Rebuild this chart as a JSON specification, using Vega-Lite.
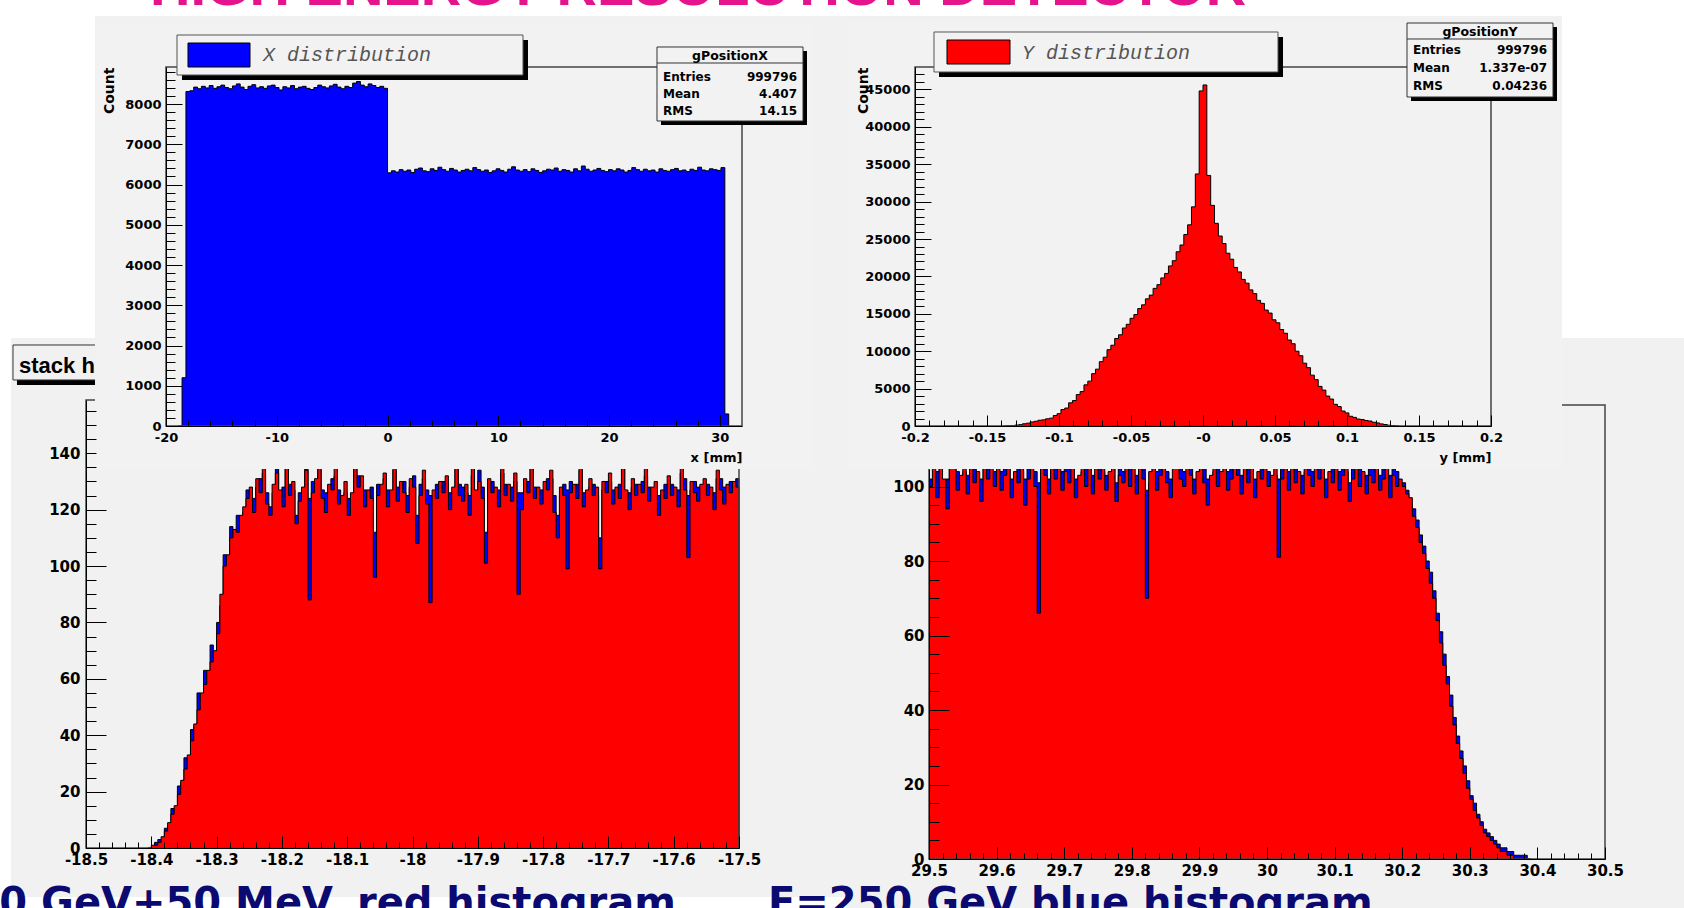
{
"$schema":"https://vega.github.io/schema/vega-lite/v6.json",
"width":1684,"height":908,"autosize":"none","padding":0,"background":"#ffffff",
"config":{"view":{"stroke":null},"axis":{"grid":false,"labelFont":"DejaVu Sans","labelFontWeight":"bold","labelColor":"#000000","domainColor":"#000000","domainWidth":1,"tickColor":"#000000","tickWidth":1,"titleFont":"DejaVu Sans","titleFontWeight":"bold","titleColor":"#000000","labelFlush":false,"labelOverlap":false,"labelBound":false}},
"data":{"values":[{}]},
"datasets":{
"tl":[{"x":-18.9,"count":0},{"x":-18.55,"count":1200},{"x":-18.2,"count":8310},{"x":-17.85,"count":8330},{"x":-17.5,"count":8420},{"x":-17.15,"count":8380},{"x":-16.8,"count":8440},{"x":-16.45,"count":8400},{"x":-16.1,"count":8460},{"x":-15.75,"count":8390},{"x":-15.4,"count":8430},{"x":-15.05,"count":8470},{"x":-14.7,"count":8410},{"x":-14.35,"count":8380},{"x":-14,"count":8450},{"x":-13.65,"count":8500},{"x":-13.3,"count":8420},{"x":-12.95,"count":8360},{"x":-12.6,"count":8440},{"x":-12.25,"count":8480},{"x":-11.9,"count":8400},{"x":-11.55,"count":8430},{"x":-11.2,"count":8390},{"x":-10.85,"count":8450},{"x":-10.5,"count":8470},{"x":-10.15,"count":8410},{"x":-9.8,"count":8350},{"x":-9.45,"count":8430},{"x":-9.1,"count":8400},{"x":-8.75,"count":8460},{"x":-8.4,"count":8380},{"x":-8.05,"count":8420},{"x":-7.7,"count":8440},{"x":-7.35,"count":8390},{"x":-7,"count":8360},{"x":-6.65,"count":8410},{"x":-6.3,"count":8470},{"x":-5.95,"count":8430},{"x":-5.6,"count":8400},{"x":-5.25,"count":8450},{"x":-4.9,"count":8490},{"x":-4.55,"count":8420},{"x":-4.2,"count":8380},{"x":-3.85,"count":8440},{"x":-3.5,"count":8410},{"x":-3.15,"count":8520},{"x":-2.8,"count":8560},{"x":-2.45,"count":8470},{"x":-2.1,"count":8430},{"x":-1.75,"count":8500},{"x":-1.4,"count":8460},{"x":-1.05,"count":8410},{"x":-0.7,"count":8440},{"x":-0.35,"count":8390},
{"x":0,"count":6290},{"x":0.35,"count":6340},{"x":0.7,"count":6310},{"x":1.05,"count":6370},{"x":1.4,"count":6330},{"x":1.75,"count":6360},{"x":2.1,"count":6300},{"x":2.45,"count":6380},{"x":2.8,"count":6410},{"x":3.15,"count":6340},{"x":3.5,"count":6320},{"x":3.85,"count":6390},{"x":4.2,"count":6350},{"x":4.55,"count":6430},{"x":4.9,"count":6370},{"x":5.25,"count":6330},{"x":5.6,"count":6400},{"x":5.95,"count":6360},{"x":6.3,"count":6310},{"x":6.65,"count":6350},{"x":7,"count":6380},{"x":7.35,"count":6340},{"x":7.7,"count":6420},{"x":8.05,"count":6370},{"x":8.4,"count":6330},{"x":8.75,"count":6360},{"x":9.1,"count":6300},{"x":9.45,"count":6340},{"x":9.8,"count":6390},{"x":10.15,"count":6350},{"x":10.5,"count":6310},{"x":10.85,"count":6380},{"x":11.2,"count":6440},{"x":11.55,"count":6360},{"x":11.9,"count":6330},{"x":12.25,"count":6370},{"x":12.6,"count":6320},{"x":12.95,"count":6390},{"x":13.3,"count":6350},{"x":13.65,"count":6300},{"x":14,"count":6340},{"x":14.35,"count":6380},{"x":14.7,"count":6360},{"x":15.05,"count":6410},{"x":15.4,"count":6330},{"x":15.75,"count":6370},{"x":16.1,"count":6350},{"x":16.45,"count":6310},{"x":16.8,"count":6390},{"x":17.15,"count":6340},{"x":17.5,"count":6460},{"x":17.85,"count":6380},{"x":18.2,"count":6330},{"x":18.55,"count":6360},{"x":18.9,"count":6400},{"x":19.25,"count":6350},{"x":19.6,"count":6320},{"x":19.95,"count":6370},{"x":20.3,"count":6340},{"x":20.65,"count":6390},{"x":21,"count":6360},{"x":21.35,"count":6310},{"x":21.7,"count":6350},{"x":22.05,"count":6420},{"x":22.4,"count":6370},{"x":22.75,"count":6330},{"x":23.1,"count":6380},{"x":23.45,"count":6340},{"x":23.8,"count":6360},{"x":24.15,"count":6310},{"x":24.5,"count":6390},{"x":24.85,"count":6350},{"x":25.2,"count":6330},{"x":25.55,"count":6370},{"x":25.9,"count":6400},{"x":26.25,"count":6340},{"x":26.6,"count":6360},{"x":26.95,"count":6320},{"x":27.3,"count":6380},{"x":27.65,"count":6350},{"x":28,"count":6430},{"x":28.35,"count":6360},{"x":28.7,"count":6340},{"x":29.05,"count":6390},{"x":29.4,"count":6370},{"x":29.75,"count":6350},{"x":30.1,"count":6420},{"x":30.45,"count":300},{"x":30.8,"count":0}],
"tr":[{"x":-0.138667,"count":0},{"x":-0.136,"count":18},{"x":-0.133333,"count":45},{"x":-0.130667,"count":120},{"x":-0.128,"count":180},{"x":-0.125333,"count":300},{"x":-0.122667,"count":380},{"x":-0.12,"count":540},{"x":-0.117333,"count":630},{"x":-0.114667,"count":770},{"x":-0.112,"count":820},{"x":-0.109333,"count":960},{"x":-0.106667,"count":1050},{"x":-0.104,"count":1400},{"x":-0.101333,"count":1650},{"x":-0.098667,"count":2200},{"x":-0.096,"count":2400},{"x":-0.093333,"count":3100},{"x":-0.090667,"count":3400},{"x":-0.088,"count":4200},{"x":-0.085333,"count":4600},{"x":-0.082667,"count":5500},{"x":-0.08,"count":6000},{"x":-0.077333,"count":7000},{"x":-0.074667,"count":7600},{"x":-0.072,"count":8600},{"x":-0.069333,"count":9200},{"x":-0.066667,"count":10200},{"x":-0.064,"count":10800},{"x":-0.061333,"count":11700},{"x":-0.058667,"count":12200},{"x":-0.056,"count":13100},{"x":-0.053333,"count":13600},{"x":-0.050667,"count":14400},{"x":-0.048,"count":14900},{"x":-0.045333,"count":15700},{"x":-0.042667,"count":16200},{"x":-0.04,"count":17000},{"x":-0.037333,"count":17500},{"x":-0.034667,"count":18400},{"x":-0.032,"count":18900},{"x":-0.029333,"count":19800},{"x":-0.026667,"count":20400},{"x":-0.024,"count":21400},{"x":-0.021333,"count":22100},{"x":-0.018667,"count":23300},{"x":-0.016,"count":24200},{"x":-0.013333,"count":25600},{"x":-0.010667,"count":26900},{"x":-0.008,"count":29300},{"x":-0.005333,"count":33700},{"x":-0.002667,"count":44800},{"x":0,"count":45600},{"x":0.002667,"count":33500},{"x":0.005333,"count":29500},{"x":0.008,"count":27100},{"x":0.010667,"count":25400},{"x":0.013333,"count":24400},{"x":0.016,"count":23100},{"x":0.018667,"count":22300},{"x":0.021333,"count":21200},{"x":0.024,"count":20600},{"x":0.026667,"count":19600},{"x":0.029333,"count":19100},{"x":0.032,"count":18200},{"x":0.034667,"count":17700},{"x":0.037333,"count":16800},{"x":0.04,"count":16400},{"x":0.042667,"count":15500},{"x":0.045333,"count":15100},{"x":0.048,"count":14200},{"x":0.050667,"count":13800},{"x":0.053333,"count":12900},{"x":0.056,"count":12400},{"x":0.058667,"count":11500},{"x":0.061333,"count":11000},{"x":0.064,"count":10000},{"x":0.066667,"count":9400},{"x":0.069333,"count":8400},{"x":0.072,"count":7800},{"x":0.074667,"count":6800},{"x":0.077333,"count":6200},{"x":0.08,"count":5300},{"x":0.082667,"count":4800},{"x":0.085333,"count":4000},{"x":0.088,"count":3600},{"x":0.090667,"count":2900},{"x":0.093333,"count":2600},{"x":0.096,"count":2000},{"x":0.098667,"count":1750},{"x":0.101333,"count":1300},{"x":0.104,"count":1150},{"x":0.106667,"count":930},{"x":0.109333,"count":870},{"x":0.112,"count":730},{"x":0.114667,"count":670},{"x":0.117333,"count":500},{"x":0.12,"count":410},{"x":0.122667,"count":280},{"x":0.125333,"count":200},{"x":0.128,"count":100},{"x":0.130667,"count":55},{"x":0.133333,"count":12},{"x":0.136,"count":0}],
"ll":[{"x":-18.405,"red":0,"blue":0},{"x":-18.4,"red":1,"blue":0},{"x":-18.395,"red":1,"blue":2},{"x":-18.39,"red":2,"blue":3},{"x":-18.385,"red":4,"blue":3},{"x":-18.38,"red":6,"blue":7},{"x":-18.375,"red":9,"blue":8},{"x":-18.37,"red":12,"blue":14},{"x":-18.365,"red":15,"blue":13},{"x":-18.36,"red":19,"blue":22},{"x":-18.355,"red":24,"blue":23},{"x":-18.35,"red":28,"blue":32},{"x":-18.345,"red":33,"blue":31},{"x":-18.34,"red":38,"blue":42},{"x":-18.335,"red":44,"blue":43},{"x":-18.33,"red":49,"blue":55},{"x":-18.325,"red":55,"blue":52},{"x":-18.32,"red":58,"blue":63},{"x":-18.315,"red":63,"blue":60},{"x":-18.31,"red":66,"blue":72},{"x":-18.305,"red":70,"blue":68},{"x":-18.3,"red":76,"blue":80},{"x":-18.295,"red":90,"blue":86},{"x":-18.29,"red":100,"blue":104},{"x":-18.285,"red":104,"blue":99},{"x":-18.28,"red":110,"blue":114},{"x":-18.275,"red":113,"blue":110},{"x":-18.27,"red":112,"blue":118},{"x":-18.265,"red":118,"blue":115},{"x":-18.26,"red":121,"blue":119},
{"x":-18.255,"red":124,"blue":127},{"x":-18.25,"red":128,"blue":125},{"x":-18.245,"red":119,"blue":124},{"x":-18.24,"red":131,"blue":128},{"x":-18.235,"red":126,"blue":131},{"x":-18.23,"red":136,"blue":133},{"x":-18.225,"red":122,"blue":126},{"x":-18.22,"red":118,"blue":121},{"x":-18.215,"red":129,"blue":126},{"x":-18.21,"red":133,"blue":137},
{"x":-18.205,"red":127,"blue":124},{"x":-18.2,"red":121,"blue":128},{"x":-18.195,"red":138,"blue":135},{"x":-18.19,"red":125,"blue":129},{"x":-18.185,"red":130,"blue":127},{"x":-18.18,"red":115,"blue":118},{"x":-18.175,"red":123,"blue":126},{"x":-18.17,"red":128,"blue":124},{"x":-18.165,"red":134,"blue":138},{"x":-18.16,"red":88,"blue":124},
{"x":-18.155,"red":126,"blue":130},{"x":-18.15,"red":131,"blue":128},{"x":-18.145,"red":142,"blue":139},{"x":-18.14,"red":124,"blue":127},{"x":-18.135,"red":119,"blue":126},{"x":-18.13,"red":129,"blue":125},{"x":-18.125,"red":127,"blue":131},{"x":-18.12,"red":135,"blue":132},{"x":-18.115,"red":122,"blue":127},{"x":-18.11,"red":125,"blue":121},
{"x":-18.105,"red":130,"blue":126},{"x":-18.1,"red":118,"blue":124},{"x":-18.095,"red":126,"blue":123},{"x":-18.09,"red":140,"blue":137},{"x":-18.085,"red":128,"blue":132},{"x":-18.08,"red":132,"blue":129},{"x":-18.075,"red":121,"blue":127},{"x":-18.07,"red":127,"blue":123},{"x":-18.065,"red":124,"blue":128},{"x":-18.06,"red":96,"blue":112},
{"x":-18.055,"red":125,"blue":129},{"x":-18.05,"red":129,"blue":126},{"x":-18.045,"red":133,"blue":131},{"x":-18.04,"red":121,"blue":127},{"x":-18.035,"red":127,"blue":124},{"x":-18.03,"red":137,"blue":134},{"x":-18.025,"red":123,"blue":128},{"x":-18.02,"red":130,"blue":127},{"x":-18.015,"red":126,"blue":130},{"x":-18.01,"red":119,"blue":125},
{"x":-18.005,"red":131,"blue":128},{"x":-18,"red":128,"blue":132},{"x":-17.995,"red":108,"blue":118},{"x":-17.99,"red":125,"blue":129},{"x":-17.985,"red":134,"blue":131},{"x":-17.98,"red":122,"blue":127},{"x":-17.975,"red":87,"blue":125},{"x":-17.97,"red":127,"blue":124},{"x":-17.965,"red":124,"blue":129},{"x":-17.96,"red":130,"blue":127},
{"x":-17.955,"red":126,"blue":130},{"x":-17.95,"red":132,"blue":129},{"x":-17.945,"red":120,"blue":126},{"x":-17.94,"red":128,"blue":125},{"x":-17.935,"red":145,"blue":141},{"x":-17.93,"red":125,"blue":129},{"x":-17.925,"red":123,"blue":128},{"x":-17.92,"red":129,"blue":126},{"x":-17.915,"red":118,"blue":125},{"x":-17.91,"red":135,"blue":132},
{"x":-17.905,"red":127,"blue":124},{"x":-17.9,"red":130,"blue":134},{"x":-17.895,"red":124,"blue":128},{"x":-17.89,"red":101,"blue":112},{"x":-17.885,"red":131,"blue":128},{"x":-17.88,"red":126,"blue":130},{"x":-17.875,"red":128,"blue":125},{"x":-17.87,"red":121,"blue":127},{"x":-17.865,"red":136,"blue":133},{"x":-17.86,"red":125,"blue":129},
{"x":-17.855,"red":129,"blue":126},{"x":-17.85,"red":123,"blue":128},{"x":-17.845,"red":133,"blue":130},{"x":-17.84,"red":90,"blue":126},{"x":-17.835,"red":120,"blue":126},{"x":-17.83,"red":131,"blue":128},{"x":-17.825,"red":126,"blue":130},{"x":-17.82,"red":138,"blue":135},{"x":-17.815,"red":124,"blue":128},{"x":-17.81,"red":128,"blue":125},
{"x":-17.805,"red":122,"blue":127},{"x":-17.8,"red":130,"blue":127},{"x":-17.795,"red":127,"blue":131},{"x":-17.79,"red":134,"blue":131},{"x":-17.785,"red":119,"blue":125},{"x":-17.78,"red":110,"blue":118},{"x":-17.775,"red":128,"blue":125},{"x":-17.77,"red":125,"blue":129},{"x":-17.765,"red":99,"blue":127},{"x":-17.76,"red":126,"blue":130},
{"x":-17.755,"red":129,"blue":126},{"x":-17.75,"red":124,"blue":129},{"x":-17.745,"red":137,"blue":134},{"x":-17.74,"red":121,"blue":126},{"x":-17.735,"red":127,"blue":124},{"x":-17.73,"red":131,"blue":128},{"x":-17.725,"red":125,"blue":129},{"x":-17.72,"red":128,"blue":125},{"x":-17.715,"red":99,"blue":110},{"x":-17.71,"red":130,"blue":127},
{"x":-17.705,"red":126,"blue":130},{"x":-17.7,"red":133,"blue":130},{"x":-17.695,"red":122,"blue":127},{"x":-17.69,"red":128,"blue":125},{"x":-17.685,"red":124,"blue":129},{"x":-17.68,"red":140,"blue":137},{"x":-17.675,"red":127,"blue":124},{"x":-17.67,"red":120,"blue":126},{"x":-17.665,"red":131,"blue":128},{"x":-17.66,"red":125,"blue":129},
{"x":-17.655,"red":129,"blue":126},{"x":-17.65,"red":126,"blue":130},{"x":-17.645,"red":135,"blue":132},{"x":-17.64,"red":123,"blue":128},{"x":-17.635,"red":128,"blue":125},{"x":-17.63,"red":130,"blue":127},{"x":-17.625,"red":118,"blue":125},{"x":-17.62,"red":127,"blue":124},{"x":-17.615,"red":124,"blue":129},{"x":-17.61,"red":132,"blue":129},
{"x":-17.605,"red":125,"blue":129},{"x":-17.6,"red":128,"blue":125},{"x":-17.595,"red":121,"blue":127},{"x":-17.59,"red":136,"blue":133},{"x":-17.585,"red":127,"blue":131},{"x":-17.58,"red":103,"blue":125},{"x":-17.575,"red":130,"blue":127},{"x":-17.57,"red":126,"blue":130},{"x":-17.565,"red":123,"blue":128},{"x":-17.56,"red":129,"blue":126},
{"x":-17.555,"red":131,"blue":128},{"x":-17.55,"red":125,"blue":129},{"x":-17.545,"red":128,"blue":125},{"x":-17.54,"red":120,"blue":126},{"x":-17.535,"red":134,"blue":131},{"x":-17.53,"red":127,"blue":131},{"x":-17.525,"red":122,"blue":128},{"x":-17.52,"red":129,"blue":126},{"x":-17.515,"red":126,"blue":130},{"x":-17.51,"red":130,"blue":127},
{"x":-17.505,"red":128,"blue":131},{"x":-17.5,"red":0,"blue":0}],
"lr":[{"x":29.5,"red":100,"blue":102},{"x":29.505,"red":105,"blue":101},{"x":29.51,"red":97,"blue":104},{"x":29.515,"red":108,"blue":106},{"x":29.52,"red":102,"blue":99},{"x":29.525,"red":94,"blue":102},{"x":29.53,"red":106,"blue":108},{"x":29.535,"red":111,"blue":107},{"x":29.54,"red":99,"blue":104},{"x":29.545,"red":103,"blue":100},
{"x":29.55,"red":107,"blue":104},{"x":29.555,"red":98,"blue":103},{"x":29.56,"red":113,"blue":110},{"x":29.565,"red":101,"blue":105},{"x":29.57,"red":104,"blue":101},{"x":29.575,"red":96,"blue":102},{"x":29.58,"red":109,"blue":106},{"x":29.585,"red":102,"blue":107},{"x":29.59,"red":105,"blue":102},{"x":29.595,"red":100,"blue":104},
{"x":29.6,"red":106,"blue":103},{"x":29.605,"red":99,"blue":104},{"x":29.61,"red":103,"blue":107},{"x":29.615,"red":110,"blue":106},{"x":29.62,"red":97,"blue":102},{"x":29.625,"red":104,"blue":101},{"x":29.63,"red":101,"blue":105},{"x":29.635,"red":108,"blue":104},{"x":29.64,"red":95,"blue":102},{"x":29.645,"red":102,"blue":106},
{"x":29.65,"red":105,"blue":102},{"x":29.655,"red":100,"blue":104},{"x":29.66,"red":66,"blue":101},{"x":29.665,"red":107,"blue":105},{"x":29.67,"red":103,"blue":107},{"x":29.675,"red":98,"blue":102},{"x":29.68,"red":111,"blue":108},{"x":29.685,"red":102,"blue":106},{"x":29.69,"red":106,"blue":103},{"x":29.695,"red":99,"blue":104},
{"x":29.7,"red":104,"blue":107},{"x":29.705,"red":101,"blue":105},{"x":29.71,"red":109,"blue":106},{"x":29.715,"red":97,"blue":102},{"x":29.72,"red":103,"blue":100},{"x":29.725,"red":106,"blue":104},{"x":29.73,"red":100,"blue":105},{"x":29.735,"red":112,"blue":108},{"x":29.74,"red":98,"blue":103},{"x":29.745,"red":105,"blue":101},
{"x":29.75,"red":102,"blue":106},{"x":29.755,"red":107,"blue":104},{"x":29.76,"red":99,"blue":103},{"x":29.765,"red":104,"blue":102},{"x":29.77,"red":110,"blue":107},{"x":29.775,"red":96,"blue":101},{"x":29.78,"red":103,"blue":107},{"x":29.785,"red":101,"blue":104},{"x":29.79,"red":108,"blue":105},{"x":29.795,"red":100,"blue":106},
{"x":29.8,"red":105,"blue":102},{"x":29.805,"red":98,"blue":103},{"x":29.81,"red":106,"blue":104},{"x":29.815,"red":102,"blue":106},{"x":29.82,"red":70,"blue":99},{"x":29.825,"red":104,"blue":101},{"x":29.83,"red":109,"blue":106},{"x":29.835,"red":99,"blue":104},{"x":29.84,"red":103,"blue":107},{"x":29.845,"red":107,"blue":104},
{"x":29.85,"red":101,"blue":104},{"x":29.855,"red":97,"blue":102},{"x":29.86,"red":105,"blue":101},{"x":29.865,"red":110,"blue":107},{"x":29.87,"red":102,"blue":106},{"x":29.875,"red":100,"blue":104},{"x":29.88,"red":106,"blue":103},{"x":29.885,"red":103,"blue":107},{"x":29.89,"red":98,"blue":102},{"x":29.895,"red":104,"blue":100},
{"x":29.9,"red":108,"blue":105},{"x":29.905,"red":101,"blue":106},{"x":29.91,"red":95,"blue":102},{"x":29.915,"red":103,"blue":100},{"x":29.92,"red":107,"blue":104},{"x":29.925,"red":100,"blue":105},{"x":29.93,"red":104,"blue":101},{"x":29.935,"red":111,"blue":108},{"x":29.94,"red":99,"blue":104},{"x":29.945,"red":102,"blue":106},
{"x":29.95,"red":106,"blue":103},{"x":29.955,"red":103,"blue":107},{"x":29.96,"red":98,"blue":103},{"x":29.965,"red":105,"blue":101},{"x":29.97,"red":101,"blue":105},{"x":29.975,"red":109,"blue":106},{"x":29.98,"red":97,"blue":102},{"x":29.985,"red":104,"blue":100},{"x":29.99,"red":102,"blue":106},{"x":29.995,"red":107,"blue":104},
{"x":30,"red":100,"blue":104},{"x":30.005,"red":103,"blue":100},{"x":30.01,"red":106,"blue":103},{"x":30.015,"red":81,"blue":102},{"x":30.02,"red":102,"blue":105},{"x":30.025,"red":108,"blue":105},{"x":30.03,"red":99,"blue":104},{"x":30.035,"red":105,"blue":102},{"x":30.04,"red":101,"blue":105},{"x":30.045,"red":104,"blue":101},
{"x":30.05,"red":98,"blue":103},{"x":30.055,"red":107,"blue":104},{"x":30.06,"red":103,"blue":107},{"x":30.065,"red":100,"blue":104},{"x":30.07,"red":106,"blue":102},{"x":30.075,"red":102,"blue":106},{"x":30.08,"red":110,"blue":107},{"x":30.085,"red":97,"blue":102},{"x":30.09,"red":104,"blue":101},{"x":30.095,"red":101,"blue":105},
{"x":30.1,"red":105,"blue":102},{"x":30.105,"red":99,"blue":104},{"x":30.11,"red":103,"blue":106},{"x":30.115,"red":108,"blue":104},{"x":30.12,"red":96,"blue":101},{"x":30.125,"red":102,"blue":106},{"x":30.13,"red":106,"blue":103},{"x":30.135,"red":100,"blue":105},{"x":30.14,"red":104,"blue":101},{"x":30.145,"red":98,"blue":103},
{"x":30.15,"red":103,"blue":107},{"x":30.155,"red":101,"blue":105},{"x":30.16,"red":107,"blue":104},{"x":30.165,"red":99,"blue":103},{"x":30.17,"red":102,"blue":106},{"x":30.175,"red":105,"blue":102},{"x":30.18,"red":97,"blue":103},{"x":30.185,"red":103,"blue":107},{"x":30.19,"red":100,"blue":104},{"x":30.195,"red":102,"blue":99},
{"x":30.2,"red":100,"blue":101},{"x":30.205,"red":98,"blue":99},{"x":30.21,"red":97,"blue":95},{"x":30.215,"red":92,"blue":94},{"x":30.22,"red":89,"blue":91},{"x":30.225,"red":85,"blue":87},{"x":30.23,"red":82,"blue":84},{"x":30.235,"red":78,"blue":80},{"x":30.24,"red":74,"blue":77},{"x":30.245,"red":70,"blue":72},{"x":30.25,"red":64,"blue":66},{"x":30.255,"red":58,"blue":61},{"x":30.26,"red":52,"blue":55},{"x":30.265,"red":47,"blue":49},{"x":30.27,"red":41,"blue":44},{"x":30.275,"red":36,"blue":38},{"x":30.28,"red":31,"blue":33},{"x":30.285,"red":27,"blue":29},{"x":30.29,"red":23,"blue":25},{"x":30.295,"red":19,"blue":21},{"x":30.3,"red":16,"blue":17},{"x":30.305,"red":13,"blue":15},{"x":30.31,"red":11,"blue":12},{"x":30.315,"red":9,"blue":10},{"x":30.32,"red":7,"blue":8},{"x":30.325,"red":6,"blue":7},{"x":30.33,"red":5,"blue":6},{"x":30.335,"red":4,"blue":5},{"x":30.34,"red":3,"blue":4},{"x":30.345,"red":2,"blue":3},{"x":30.35,"red":2,"blue":3},{"x":30.355,"red":1,"blue":2},{"x":30.36,"red":1,"blue":2},{"x":30.365,"red":0,"blue":1},{"x":30.37,"red":0,"blue":1},{"x":30.375,"red":0,"blue":1},{"x":30.38,"red":0,"blue":1},{"x":30.385,"red":0,"blue":0},{"x":30.39,"red":0,"blue":0}]
},
"resolve":{"scale":{"x":"independent","y":"independent"},"axis":{"x":"independent","y":"independent"}},
"layer":[
{"mark":{"type":"rect","fill":"#f1f1f1"},"encoding":{"x":{"datum":-18.6149,"type":"quantitative","scale":{"domain":[-18.5,-17.5],"range":[86,739],"nice":false,"zero":false},"axis":null},"x2":{"datum":-17.33},"y":{"datum":180.89,"type":"quantitative","scale":{"domain":[0,158.9],"range":[848,400],"nice":false},"axis":null},"y2":{"datum":-17.38}}},
{"mark":{"type":"rect","fill":"#000000"},"encoding":{"x":{"datum":-18.6057,"type":"quantitative","scale":{"domain":[-18.5,-17.5],"range":[86,739],"nice":false,"zero":false},"axis":null},"x2":{"datum":-18.1355},"y":{"datum":176.63,"type":"quantitative","scale":{"domain":[0,158.9],"range":[848,400],"nice":false},"axis":null},"y2":{"datum":164.22}}},
{"mark":{"type":"rect","fill":"#f1f1f1","stroke":"#333333","strokeWidth":1},"encoding":{"x":{"datum":-18.6118,"type":"quantitative","scale":{"domain":[-18.5,-17.5],"range":[86,739],"nice":false,"zero":false},"axis":null},"x2":{"datum":-18.1417},"y":{"datum":178.41,"type":"quantitative","scale":{"domain":[0,158.9],"range":[848,400],"nice":false},"axis":null},"y2":{"datum":166.0}}},
{"mark":{"type":"text","text":"stack histograms","font":"Liberation Sans","fontSize":22,"fontWeight":"bold","align":"left","baseline":"alphabetic","color":"#000000"},"encoding":{"x":{"datum":-18.6026,"type":"quantitative","scale":{"domain":[-18.5,-17.5],"range":[86,739],"nice":false,"zero":false},"axis":null},"y":{"datum":168.48,"type":"quantitative","scale":{"domain":[0,158.9],"range":[848,400],"nice":false},"axis":null}}},
{"mark":{"type":"text","text":"E=250 GeV+50 MeV, red histogram","font":"DejaVu Sans","fontSize":40,"fontWeight":"bold","align":"right","baseline":"alphabetic","color":"#0a0a70"},"encoding":{"x":{"datum":-17.5965,"type":"quantitative","scale":{"domain":[-18.5,-17.5],"range":[86,739],"nice":false,"zero":false},"axis":null},"y":{"datum":-24.12,"type":"quantitative","scale":{"domain":[0,158.9],"range":[848,400],"nice":false},"axis":null}}},
{"data":{"name":"ll"},"mark":{"type":"area","interpolate":"step-after","color":"#0000ff","opacity":1,"line":{"color":"#000000","strokeWidth":1}},"encoding":{"x":{"field":"x","type":"quantitative","scale":{"domain":[-18.5,-17.5],"range":[86,739],"nice":false,"zero":false},"axis":null},"y":{"field":"blue","type":"quantitative","scale":{"domain":[0,158.9],"range":[848,400],"nice":false},"axis":null}}},
{"data":{"name":"ll"},"mark":{"type":"area","interpolate":"step-after","color":"#ff0000","opacity":1,"line":{"color":"#000000","strokeWidth":1}},"encoding":{"x":{"field":"x","type":"quantitative","scale":{"domain":[-18.5,-17.5],"range":[86,739],"nice":false,"zero":false},"axis":null},"y":{"field":"red","type":"quantitative","scale":{"domain":[0,158.9],"range":[848,400],"nice":false},"axis":null}}},
{"mark":{"type":"rect","fill":"transparent","stroke":"#444444","strokeWidth":1.5},"encoding":{"x":{"datum":-18.5,"type":"quantitative","scale":{"domain":[-18.5,-17.5],"range":[86,739],"nice":false,"zero":false},"axis":{"zindex":1,"orient":"bottom","offset":-60,"values":[-18.5,-18.4,-18.3,-18.2,-18.1,-18,-17.9,-17.8,-17.7,-17.6,-17.5],"labelExpr":"toString(datum.value)","ticks":false,"tickSize":0,"domain":true,"labelFontSize":15,"labelPadding":4,"title":null}},"x2":{"datum":-17.5},"y":{"datum":0,"type":"quantitative","scale":{"domain":[0,158.9],"range":[848,400],"nice":false},"axis":{"zindex":1,"orient":"left","offset":-86,"values":[0,20,40,60,80,100,120,140],"labelExpr":"toString(datum.value)","ticks":false,"tickSize":0,"domain":true,"labelFontSize":15,"labelPadding":6,"title":null}},"y2":{"datum":158.9}}},
{"mark":{"type":"point","opacity":0,"size":1},"encoding":{"x":{"datum":-18.5,"type":"quantitative","scale":{"domain":[-18.5,-17.5],"range":[86,739],"nice":false,"zero":false},"axis":{"zindex":1,"orient":"bottom","offset":-60,"values":[-18.5,-18.4,-18.3,-18.2,-18.1,-18,-17.9,-17.8,-17.7,-17.6,-17.5],"labels":false,"domain":false,"tickSize":-12,"title":null}},"y":{"datum":0,"type":"quantitative","scale":{"domain":[0,158.9],"range":[848,400],"nice":false},"axis":{"zindex":1,"orient":"left","offset":-86,"values":[0,20,40,60,80,100,120],"labels":false,"domain":false,"tickSize":-20,"title":null}}}},
{"mark":{"type":"point","opacity":0,"size":1},"encoding":{"x":{"datum":-18.5,"type":"quantitative","scale":{"domain":[-18.5,-17.5],"range":[86,739],"nice":false,"zero":false},"axis":{"zindex":1,"orient":"bottom","offset":-60,"values":[-18.48,-18.46,-18.44,-18.42,-18.38,-18.36,-18.34,-18.32,-18.28,-18.26,-18.24,-18.22,-18.18,-18.16,-18.14,-18.12,-18.08,-18.06,-18.04,-18.02,-17.98,-17.96,-17.94,-17.92,-17.88,-17.86,-17.84,-17.82,-17.78,-17.76,-17.74,-17.72,-17.68,-17.66,-17.64,-17.62,-17.58,-17.56,-17.54,-17.52],"labels":false,"domain":false,"tickSize":-6,"title":null}},"y":{"datum":0,"type":"quantitative","scale":{"domain":[0,158.9],"range":[848,400],"nice":false},"axis":{"zindex":1,"orient":"left","offset":-86,"values":[5,10,15,25,30,35,45,50,55,65,70,75,85,90,95,105,110,115,125,130,135,140,145,150,155],"labels":false,"domain":false,"tickSize":-10,"title":null}}}},

{"mark":{"type":"rect","fill":"#f1f1f1"},"encoding":{"x":{"datum":29.3772,"type":"quantitative","scale":{"domain":[29.5,30.5],"range":[929,1605],"nice":false,"zero":false},"axis":null},"x2":{"datum":30.6405},"y":{"datum":139.87,"type":"quantitative","scale":{"domain":[0,104.7],"range":[859,469],"nice":false},"axis":null},"y2":{"datum":-15.03}}},
{"mark":{"type":"text","text":"E=250 GeV blue histogram","font":"DejaVu Sans","fontSize":40,"fontWeight":"bold","align":"left","baseline":"alphabetic","color":"#0a0a70"},"encoding":{"x":{"datum":29.2618,"type":"quantitative","scale":{"domain":[29.5,30.5],"range":[929,1605],"nice":false,"zero":false},"axis":null},"y":{"datum":-15.3,"type":"quantitative","scale":{"domain":[0,104.7],"range":[859,469],"nice":false},"axis":null}}},
{"data":{"name":"lr"},"mark":{"type":"area","interpolate":"step-after","color":"#0000ff","opacity":1,"line":{"color":"#000000","strokeWidth":1}},"encoding":{"x":{"field":"x","type":"quantitative","scale":{"domain":[29.5,30.5],"range":[929,1605],"nice":false,"zero":false},"axis":null},"y":{"field":"blue","type":"quantitative","scale":{"domain":[0,104.7],"range":[859,469],"nice":false},"axis":null}}},
{"data":{"name":"lr"},"mark":{"type":"area","interpolate":"step-after","color":"#ff0000","opacity":1,"line":{"color":"#000000","strokeWidth":1}},"encoding":{"x":{"field":"x","type":"quantitative","scale":{"domain":[29.5,30.5],"range":[929,1605],"nice":false,"zero":false},"axis":null},"y":{"field":"red","type":"quantitative","scale":{"domain":[0,104.7],"range":[859,469],"nice":false},"axis":null}}},
{"mark":{"type":"rect","fill":"transparent","stroke":"#444444","strokeWidth":1.5},"encoding":{"x":{"datum":29.5,"type":"quantitative","scale":{"domain":[29.5,30.5],"range":[929,1605],"nice":false,"zero":false},"axis":{"zindex":1,"orient":"bottom","offset":-49,"values":[29.5,29.6,29.7,29.8,29.9,30,30.1,30.2,30.3,30.4,30.5],"labelExpr":"toString(datum.value)","ticks":false,"tickSize":0,"domain":true,"labelFontSize":15,"labelPadding":4,"title":null}},"x2":{"datum":30.5},"y":{"datum":0,"type":"quantitative","scale":{"domain":[0,104.7],"range":[859,469],"nice":false},"axis":{"zindex":1,"orient":"left","offset":-929,"values":[0,20,40,60,80,100],"labelExpr":"toString(datum.value)","ticks":false,"tickSize":0,"domain":true,"labelFontSize":15,"labelPadding":5,"title":null}},"y2":{"datum":121.88}}},
{"mark":{"type":"point","opacity":0,"size":1},"encoding":{"x":{"datum":29.5,"type":"quantitative","scale":{"domain":[29.5,30.5],"range":[929,1605],"nice":false,"zero":false},"axis":{"zindex":1,"orient":"bottom","offset":-49,"values":[29.5,29.6,29.7,29.8,29.9,30,30.1,30.2,30.3,30.4,30.5],"labels":false,"domain":false,"tickSize":-12,"title":null}},"y":{"datum":0,"type":"quantitative","scale":{"domain":[0,104.7],"range":[859,469],"nice":false},"axis":{"zindex":1,"orient":"left","offset":-929,"values":[0,20,40,60,80,100],"labels":false,"domain":false,"tickSize":-20,"title":null}}}},
{"mark":{"type":"point","opacity":0,"size":1},"encoding":{"x":{"datum":29.5,"type":"quantitative","scale":{"domain":[29.5,30.5],"range":[929,1605],"nice":false,"zero":false},"axis":{"zindex":1,"orient":"bottom","offset":-49,"values":[29.52,29.54,29.56,29.58,29.62,29.64,29.66,29.68,29.72,29.74,29.76,29.78,29.82,29.84,29.86,29.88,29.92,29.94,29.96,29.98,30.02,30.04,30.06,30.08,30.12,30.14,30.16,30.18,30.22,30.24,30.26,30.28,30.32,30.34,30.36,30.38,30.42,30.44,30.46,30.48],"labels":false,"domain":false,"tickSize":-6,"title":null}},"y":{"datum":0,"type":"quantitative","scale":{"domain":[0,104.7],"range":[859,469],"nice":false},"axis":{"zindex":1,"orient":"left","offset":-929,"values":[5,10,15,25,30,35,45,50,55,65,70,75,85,90,95],"labels":false,"domain":false,"tickSize":-10,"title":null}}}},

{"mark":{"type":"rect","fill":"#f1f1f1"},"encoding":{"x":{"datum":-26.41,"type":"quantitative","scale":{"domain":[-20,32],"range":[166,742],"nice":false,"zero":false},"axis":null},"x2":{"datum":106.03},"y":{"datum":10187,"type":"quantitative","scale":{"domain":[0,8920],"range":[426,67],"nice":false},"axis":null},"y2":{"datum":-1068.4}}},
{"mark":{"type":"text","text":"HIGH ENERGY RESOLUTION DETECTOR","font":"Liberation Sans","fontSize":56,"fontWeight":"bold","align":"left","baseline":"alphabetic","color":"#e5148c"},"encoding":{"x":{"datum":-21.444,"type":"quantitative","scale":{"domain":[-20,32],"range":[166,742],"nice":false,"zero":false},"axis":null},"y":{"datum":10460.6,"type":"quantitative","scale":{"domain":[0,8920],"range":[426,67],"nice":false},"axis":null}}},

{"mark":{"type":"rect","fill":"#f2f2f2"},"encoding":{"x":{"datum":-26.3194,"type":"quantitative","scale":{"domain":[-20,32],"range":[166,742],"nice":false,"zero":false},"axis":null},"x2":{"datum":38.41},"y":{"datum":9988.5,"type":"quantitative","scale":{"domain":[0,8920],"range":[426,67],"nice":false},"axis":null},"y2":{"datum":-1068.4}}},
{"data":{"name":"tl"},"mark":{"type":"area","interpolate":"step-after","color":"#0000ff","opacity":1,"line":{"color":"#000000","strokeWidth":1}},"encoding":{"x":{"field":"x","type":"quantitative","scale":{"domain":[-20,32],"range":[166,742],"nice":false,"zero":false},"axis":null},"y":{"field":"count","type":"quantitative","scale":{"domain":[0,8920],"range":[426,67],"nice":false},"axis":null}}},
{"mark":{"type":"rect","fill":"transparent","stroke":"#444444","strokeWidth":1.5},"encoding":{"x":{"datum":-20,"type":"quantitative","scale":{"domain":[-20,32],"range":[166,742],"nice":false,"zero":false},"axis":{"zindex":1,"orient":"bottom","offset":-482,"values":[-20,-10,0,10,20,30],"labelExpr":"toString(datum.value)","ticks":false,"tickSize":0,"domain":true,"labelFontSize":13,"labelPadding":5,"title":"x [mm]","titleX":742,"titleY":35,"titleAlign":"right","titleBaseline":"alphabetic","titleAngle":0,"titleFontSize":13}},"x2":{"datum":32},"y":{"datum":0,"type":"quantitative","scale":{"domain":[0,8920],"range":[426,67],"nice":false},"axis":{"zindex":1,"orient":"left","offset":-166,"values":[0,1000,2000,3000,4000,5000,6000,7000,8000],"labelExpr":"toString(datum.value)","ticks":false,"tickSize":0,"domain":true,"labelFontSize":13,"labelPadding":5,"title":"Count","titleX":-53,"titleY":67,"titleAngle":-90,"titleAlign":"right","titleBaseline":"alphabetic","titleFontSize":14}},"y2":{"datum":8920}}},
{"mark":{"type":"point","opacity":0,"size":1},"encoding":{"x":{"datum":-20,"type":"quantitative","scale":{"domain":[-20,32],"range":[166,742],"nice":false,"zero":false},"axis":{"zindex":1,"orient":"bottom","offset":-482,"values":[-20,-10,0,10,20,30],"labels":false,"domain":false,"tickSize":-11,"title":null}},"y":{"datum":0,"type":"quantitative","scale":{"domain":[0,8920],"range":[426,67],"nice":false},"axis":{"zindex":1,"orient":"left","offset":-166,"values":[0,1000,2000,3000,4000,5000,6000,7000,8000],"labels":false,"domain":false,"tickSize":-16,"title":null}}}},
{"mark":{"type":"point","opacity":0,"size":1},"encoding":{"x":{"datum":-20,"type":"quantitative","scale":{"domain":[-20,32],"range":[166,742],"nice":false,"zero":false},"axis":{"zindex":1,"orient":"bottom","offset":-482,"values":[-18,-16,-14,-12,-8,-6,-4,-2,2,4,6,8,12,14,16,18,22,24,26,28],"labels":false,"domain":false,"tickSize":-6,"title":null}},"y":{"datum":0,"type":"quantitative","scale":{"domain":[0,8920],"range":[426,67],"nice":false},"axis":{"zindex":1,"orient":"left","offset":-166,"values":[200,400,600,800,1200,1400,1600,1800,2200,2400,2600,2800,3200,3400,3600,3800,4200,4400,4600,4800,5200,5400,5600,5800,6200,6400,6600,6800,7200,7400,7600,7800,8200,8400,8600,8800],"labels":false,"domain":false,"tickSize":-9,"title":null}}}},
{"mark":{"type":"rect","fill":"#000000"},"encoding":{"x":{"datum":-18.5556,"type":"quantitative","scale":{"domain":[-20,32],"range":[166,742],"nice":false,"zero":false},"axis":null},"x2":{"datum":12.681},"y":{"datum":9591,"type":"quantitative","scale":{"domain":[0,8920],"range":[426,67],"nice":false},"axis":null},"y2":{"datum":8597}}},
{"mark":{"type":"rect","fill":"#f2f2f2","stroke":"#555555","strokeWidth":1},"encoding":{"x":{"datum":-19.007,"type":"quantitative","scale":{"domain":[-20,32],"range":[166,742],"nice":false,"zero":false},"axis":null},"x2":{"datum":12.229},"y":{"datum":9715,"type":"quantitative","scale":{"domain":[0,8920],"range":[426,67],"nice":false},"axis":null},"y2":{"datum":8721}}},
{"mark":{"type":"rect","fill":"#0000ff","stroke":"#000000","strokeWidth":1},"encoding":{"x":{"datum":-18.014,"type":"quantitative","scale":{"domain":[-20,32],"range":[166,742],"nice":false,"zero":false},"axis":null},"x2":{"datum":-12.417},"y":{"datum":9516,"type":"quantitative","scale":{"domain":[0,8920],"range":[426,67],"nice":false},"axis":null},"y2":{"datum":8920}}},
{"mark":{"type":"text","text":"X distribution","font":"Liberation Mono","fontSize":20,"fontStyle":"italic","align":"left","baseline":"alphabetic","color":"#555555"},"encoding":{"x":{"datum":-11.243,"type":"quantitative","scale":{"domain":[-20,32],"range":[166,742],"nice":false,"zero":false},"axis":null},"y":{"datum":9069,"type":"quantitative","scale":{"domain":[0,8920],"range":[426,67],"nice":false},"axis":null}}},
{"mark":{"type":"rect","fill":"#000000"},"encoding":{"x":{"datum":24.688,"type":"quantitative","scale":{"domain":[-20,32],"range":[166,742],"nice":false,"zero":false},"axis":null},"x2":{"datum":37.868},"y":{"datum":9318,"type":"quantitative","scale":{"domain":[0,8920],"range":[426,67],"nice":false},"axis":null},"y2":{"datum":7479}}},
{"mark":{"type":"rect","fill":"#f2f2f2","stroke":"#333333","strokeWidth":1},"encoding":{"x":{"datum":24.326,"type":"quantitative","scale":{"domain":[-20,32],"range":[166,742],"nice":false,"zero":false},"axis":null},"x2":{"datum":37.507},"y":{"datum":9417,"type":"quantitative","scale":{"domain":[0,8920],"range":[426,67],"nice":false},"axis":null},"y2":{"datum":7578}}},
{"mark":{"type":"rule","color":"#333333","strokeWidth":1},"encoding":{"x":{"datum":24.326,"type":"quantitative","scale":{"domain":[-20,32],"range":[166,742],"nice":false,"zero":false},"axis":null},"x2":{"datum":37.507},"y":{"datum":9019,"type":"quantitative","scale":{"domain":[0,8920],"range":[426,67],"nice":false},"axis":null}}},
{"mark":{"type":"text","text":"gPositionX","font":"DejaVu Sans","fontSize":12.5,"fontWeight":"bold","align":"center","baseline":"alphabetic","color":"#000000"},"encoding":{"x":{"datum":30.917,"type":"quantitative","scale":{"domain":[-20,32],"range":[166,742],"nice":false,"zero":false},"axis":null},"y":{"datum":9094,"type":"quantitative","scale":{"domain":[0,8920],"range":[426,67],"nice":false},"axis":null}}},
{"data":{"values":[{"name":"Entries","value":"999796"},{"name":"Mean","value":"4.407"},{"name":"RMS","value":"14.15"}]},"mark":{"type":"text","font":"DejaVu Sans","fontSize":12,"fontWeight":"bold","align":"left","baseline":"alphabetic","color":"#000000"},"encoding":{"x":{"datum":24.868,"type":"quantitative","scale":{"domain":[-20,32],"range":[166,742],"nice":false,"zero":false},"axis":null},"y":{"field":"name","type":"nominal","scale":{"type":"point","domain":["Entries","Mean","RMS"],"range":[81,115],"padding":0},"axis":null},"text":{"field":"name"}}},
{"data":{"values":[{"name":"Entries","value":"999796"},{"name":"Mean","value":"4.407"},{"name":"RMS","value":"14.15"}]},"mark":{"type":"text","font":"DejaVu Sans","fontSize":12,"fontWeight":"bold","align":"right","baseline":"alphabetic","color":"#000000"},"encoding":{"x":{"datum":36.965,"type":"quantitative","scale":{"domain":[-20,32],"range":[166,742],"nice":false,"zero":false},"axis":null},"y":{"field":"name","type":"nominal","scale":{"type":"point","domain":["Entries","Mean","RMS"],"range":[81,115],"padding":0},"axis":null},"text":{"field":"value"}}},

{"mark":{"type":"rect","fill":"#f2f2f2"},"encoding":{"x":{"datum":-0.24653,"type":"quantitative","scale":{"domain":[-0.2,0.2],"range":[915,1491],"nice":false,"zero":false},"axis":null},"x2":{"datum":0.24931},"y":{"datum":54017,"type":"quantitative","scale":{"domain":[0,48000],"range":[426,67],"nice":false},"axis":null},"y2":{"datum":-5749}}},
{"data":{"name":"tr"},"mark":{"type":"area","interpolate":"step-after","color":"#ff0000","opacity":1,"line":{"color":"#000000","strokeWidth":1}},"encoding":{"x":{"field":"x","type":"quantitative","scale":{"domain":[-0.2,0.2],"range":[915,1491],"nice":false,"zero":false},"axis":null},"y":{"field":"count","type":"quantitative","scale":{"domain":[0,48000],"range":[426,67],"nice":false},"axis":null}}},
{"mark":{"type":"rect","fill":"transparent","stroke":"#444444","strokeWidth":1.5},"encoding":{"x":{"datum":-0.2,"type":"quantitative","scale":{"domain":[-0.2,0.2],"range":[915,1491],"nice":false,"zero":false},"axis":{"zindex":1,"orient":"bottom","offset":-482,"values":[-0.2,-0.15,-0.1,-0.05,0,0.05,0.1,0.15,0.2],"labelExpr":"datum.value == 0 ? '-0' : toString(datum.value)","ticks":false,"tickSize":0,"domain":true,"labelFontSize":13,"labelPadding":5,"title":"y [mm]","titleX":1491,"titleY":35,"titleAlign":"right","titleBaseline":"alphabetic","titleAngle":0,"titleFontSize":13}},"x2":{"datum":0.2},"y":{"datum":0,"type":"quantitative","scale":{"domain":[0,48000],"range":[426,67],"nice":false},"axis":{"zindex":1,"orient":"left","offset":-915,"values":[0,5000,10000,15000,20000,25000,30000,35000,40000,45000],"labelExpr":"toString(datum.value)","ticks":false,"tickSize":0,"domain":true,"labelFontSize":13,"labelPadding":5,"title":"Count","titleX":-48,"titleY":67,"titleAngle":-90,"titleAlign":"right","titleBaseline":"alphabetic","titleFontSize":14}},"y2":{"datum":48000}}},
{"mark":{"type":"point","opacity":0,"size":1},"encoding":{"x":{"datum":-0.2,"type":"quantitative","scale":{"domain":[-0.2,0.2],"range":[915,1491],"nice":false,"zero":false},"axis":{"zindex":1,"orient":"bottom","offset":-482,"values":[-0.2,-0.15,-0.1,-0.05,0,0.05,0.1,0.15,0.2],"labels":false,"domain":false,"tickSize":-11,"title":null}},"y":{"datum":0,"type":"quantitative","scale":{"domain":[0,48000],"range":[426,67],"nice":false},"axis":{"zindex":1,"orient":"left","offset":-915,"values":[0,5000,10000,15000,20000,25000,30000,35000,40000,45000],"labels":false,"domain":false,"tickSize":-16,"title":null}}}},
{"mark":{"type":"point","opacity":0,"size":1},"encoding":{"x":{"datum":-0.2,"type":"quantitative","scale":{"domain":[-0.2,0.2],"range":[915,1491],"nice":false,"zero":false},"axis":{"zindex":1,"orient":"bottom","offset":-482,"values":[-0.19,-0.18,-0.17,-0.16,-0.14,-0.13,-0.12,-0.11,-0.09,-0.08,-0.07,-0.06,-0.04,-0.03,-0.02,-0.01,0.01,0.02,0.03,0.04,0.06,0.07,0.08,0.09,0.11,0.12,0.13,0.14,0.16,0.17,0.18,0.19],"labels":false,"domain":false,"tickSize":-6,"title":null}},"y":{"datum":0,"type":"quantitative","scale":{"domain":[0,48000],"range":[426,67],"nice":false},"axis":{"zindex":1,"orient":"left","offset":-915,"values":[1000,2000,3000,4000,6000,7000,8000,9000,11000,12000,13000,14000,16000,17000,18000,19000,21000,22000,23000,24000,26000,27000,28000,29000,31000,32000,33000,34000,36000,37000,38000,39000,41000,42000,43000,44000,46000,47000],"labels":false,"domain":false,"tickSize":-9,"title":null}}}},
{"mark":{"type":"rect","fill":"#000000"},"encoding":{"x":{"datum":-0.18333,"type":"quantitative","scale":{"domain":[-0.2,0.2],"range":[915,1491],"nice":false,"zero":false},"axis":null},"x2":{"datum":0.05556},"y":{"datum":52011,"type":"quantitative","scale":{"domain":[0,48000],"range":[426,67],"nice":false},"axis":null},"y2":{"datum":46663}}},
{"mark":{"type":"rect","fill":"#f2f2f2","stroke":"#555555","strokeWidth":1},"encoding":{"x":{"datum":-0.18681,"type":"quantitative","scale":{"domain":[-0.2,0.2],"range":[915,1491],"nice":false,"zero":false},"axis":null},"x2":{"datum":0.05208},"y":{"datum":52680,"type":"quantitative","scale":{"domain":[0,48000],"range":[426,67],"nice":false},"axis":null},"y2":{"datum":47332}}},
{"mark":{"type":"rect","fill":"#ff0000","stroke":"#000000","strokeWidth":1},"encoding":{"x":{"datum":-0.17778,"type":"quantitative","scale":{"domain":[-0.2,0.2],"range":[915,1491],"nice":false,"zero":false},"axis":null},"x2":{"datum":-0.13403},"y":{"datum":51610,"type":"quantitative","scale":{"domain":[0,48000],"range":[426,67],"nice":false},"axis":null},"y2":{"datum":48401}}},
{"mark":{"type":"text","text":"Y distribution","font":"Liberation Mono","fontSize":20,"fontStyle":"italic","align":"left","baseline":"alphabetic","color":"#555555"},"encoding":{"x":{"datum":-0.12569,"type":"quantitative","scale":{"domain":[-0.2,0.2],"range":[915,1491],"nice":false,"zero":false},"axis":null},"y":{"datum":49070,"type":"quantitative","scale":{"domain":[0,48000],"range":[426,67],"nice":false},"axis":null}}},
{"mark":{"type":"rect","fill":"#000000"},"encoding":{"x":{"datum":0.14444,"type":"quantitative","scale":{"domain":[-0.2,0.2],"range":[915,1491],"nice":false,"zero":false},"axis":null},"x2":{"datum":0.24583},"y":{"datum":53348,"type":"quantitative","scale":{"domain":[0,48000],"range":[426,67],"nice":false},"axis":null},"y2":{"datum":43454}}},
{"mark":{"type":"rect","fill":"#f2f2f2","stroke":"#333333","strokeWidth":1},"encoding":{"x":{"datum":0.14167,"type":"quantitative","scale":{"domain":[-0.2,0.2],"range":[915,1491],"nice":false,"zero":false},"axis":null},"x2":{"datum":0.24306},"y":{"datum":53883,"type":"quantitative","scale":{"domain":[0,48000],"range":[426,67],"nice":false},"axis":null},"y2":{"datum":43989}}},
{"mark":{"type":"rule","color":"#333333","strokeWidth":1},"encoding":{"x":{"datum":0.14167,"type":"quantitative","scale":{"domain":[-0.2,0.2],"range":[915,1491],"nice":false,"zero":false},"axis":null},"x2":{"datum":0.24306},"y":{"datum":51744,"type":"quantitative","scale":{"domain":[0,48000],"range":[426,67],"nice":false},"axis":null}}},
{"mark":{"type":"text","text":"gPositionY","font":"DejaVu Sans","fontSize":12.5,"fontWeight":"bold","align":"center","baseline":"alphabetic","color":"#000000"},"encoding":{"x":{"datum":0.19236,"type":"quantitative","scale":{"domain":[-0.2,0.2],"range":[915,1491],"nice":false,"zero":false},"axis":null},"y":{"datum":52145,"type":"quantitative","scale":{"domain":[0,48000],"range":[426,67],"nice":false},"axis":null}}},
{"data":{"values":[{"name":"Entries","value":"999796"},{"name":"Mean","value":"1.337e-07"},{"name":"RMS","value":"0.04236"}]},"mark":{"type":"text","font":"DejaVu Sans","fontSize":12,"fontWeight":"bold","align":"left","baseline":"alphabetic","color":"#000000"},"encoding":{"x":{"datum":0.14583,"type":"quantitative","scale":{"domain":[-0.2,0.2],"range":[915,1491],"nice":false,"zero":false},"axis":null},"y":{"field":"name","type":"nominal","scale":{"type":"point","domain":["Entries","Mean","RMS"],"range":[54,90],"padding":0},"axis":null},"text":{"field":"name"}}},
{"data":{"values":[{"name":"Entries","value":"999796"},{"name":"Mean","value":"1.337e-07"},{"name":"RMS","value":"0.04236"}]},"mark":{"type":"text","font":"DejaVu Sans","fontSize":12,"fontWeight":"bold","align":"right","baseline":"alphabetic","color":"#000000"},"encoding":{"x":{"datum":0.23889,"type":"quantitative","scale":{"domain":[-0.2,0.2],"range":[915,1491],"nice":false,"zero":false},"axis":null},"y":{"field":"name","type":"nominal","scale":{"type":"point","domain":["Entries","Mean","RMS"],"range":[54,90],"padding":0},"axis":null},"text":{"field":"value"}}}
]
}
